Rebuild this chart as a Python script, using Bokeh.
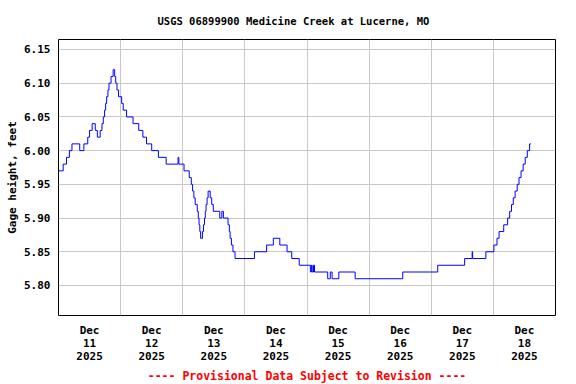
from bokeh.plotting import figure
from bokeh.models import FixedTicker, Range1d, Title, NumeralTickFormatter
from bokeh.embed import file_html
from bokeh.resources import INLINE

# hours since Dec 11 2025 00:00, gage height (ft) at each change
hours = [0.0, 1.8, 3.1, 4.2, 5.2, 8.2, 9.8, 11.3, 12.0, 13.0, 14.2, 15.0, 16.1, 16.8,
         17.3, 17.8, 18.2, 18.6, 19.1, 19.5, 20.3, 21.1, 21.7, 22.1, 22.6, 23.2, 23.7,
         24.4, 25.0, 26.3, 28.8, 31.0, 32.6, 34.0, 36.0, 38.6, 41.6, 46.2, 46.5, 48.5,
         50.5, 51.3, 51.8, 52.3, 52.8, 53.6, 54.0, 54.3, 54.6, 54.9, 55.6, 56.0, 56.4,
         56.7, 57.0, 57.4, 57.8, 58.6, 59.2, 59.8, 62.3, 63.1, 63.7, 65.5, 66.0, 66.3,
         66.8, 67.4, 68.2, 75.7, 80.4, 83.0, 85.5, 88.3, 90.1, 93.0, 97.3, 97.7, 98.0,
         98.5, 98.9, 104.0, 105.0, 105.7, 108.3, 114.6, 133.0, 146.5, 156.9, 159.8,
         160.0, 165.1, 168.2, 169.4, 170.2, 172.0, 173.5, 174.3, 175.0, 175.7, 176.4,
         177.2, 177.9, 178.7, 179.5, 180.3, 181.1, 182.0, 182.5]
gage_ft = [5.97, 5.98, 5.99, 6.00, 6.01, 6.00, 6.01, 6.02, 6.03, 6.04, 6.03, 6.02, 6.03, 6.04,
           6.05, 6.06, 6.07, 6.08, 6.09, 6.10, 6.11, 6.12, 6.11, 6.10, 6.09, 6.08, 6.08,
           6.07, 6.06, 6.05, 6.04, 6.03, 6.02, 6.01, 6.00, 5.99, 5.98, 5.99, 5.98, 5.97,
           5.96, 5.95, 5.94, 5.93, 5.92, 5.91, 5.90, 5.89, 5.88, 5.87, 5.88, 5.89, 5.90,
           5.91, 5.92, 5.93, 5.94, 5.93, 5.92, 5.91, 5.90, 5.91, 5.90, 5.89, 5.88, 5.87,
           5.86, 5.85, 5.84, 5.85, 5.86, 5.87, 5.86, 5.85, 5.84, 5.83, 5.82, 5.83, 5.82,
           5.83, 5.82, 5.81, 5.82, 5.81, 5.82, 5.81, 5.82, 5.83, 5.84, 5.85,
           5.84, 5.85, 5.86, 5.87, 5.88, 5.89, 5.90, 5.91, 5.92, 5.93, 5.94,
           5.95, 5.96, 5.97, 5.98, 5.99, 6.00, 6.01, 6.01]

day_label_hours = [12, 36, 60, 84, 108, 132, 156, 180]
day_labels = ["Dec\n11\n2025", "Dec\n12\n2025", "Dec\n13\n2025", "Dec\n14\n2025",
              "Dec\n15\n2025", "Dec\n16\n2025", "Dec\n17\n2025", "Dec\n18\n2025"]
midnight_hours = [24, 48, 72, 96, 120, 144, 168]
y_ticks = [5.80, 5.85, 5.90, 5.95, 6.00, 6.05, 6.10, 6.15]

title_text = "USGS 06899900 Medicine Creek at Lucerne, MO"
footer_text = "---- Provisional Data Subject to Revision ----"
FONT = "DejaVu Sans Mono"

p = figure(width=576, height=384, output_backend="svg", toolbar_location=None,
           x_range=Range1d(0, 192), y_range=Range1d(5.7555, 6.1648),
           min_border_left=58, min_border_right=21, min_border_top=39, min_border_bottom=68,
           background_fill_color="white", border_fill_color="white")
p.title = None
p.add_layout(Title(text=title_text, align="left", text_font=FONT, text_font_size="10.5px",
                   text_font_style="bold", text_color="black", standoff=25, offset=99), "above")
p.add_layout(Title(text=footer_text, align="center", text_font=FONT, text_font_size="11.5px",
                   text_font_style="bold", text_color="red", standoff=3), "below")

p.outline_line_color = "black"
p.outline_line_width = 1

p.step(hours, gage_ft, mode="after", line_color="#0000ff", line_width=1)

xa = p.xaxis[0]
xa.ticker = FixedTicker(ticks=day_label_hours)
xa.major_label_overrides = {h: lab for h, lab in zip(day_label_hours, day_labels)}
ya = p.yaxis[0]
ya.ticker = FixedTicker(ticks=y_ticks)
ya.formatter = NumeralTickFormatter(format="0.00")
ya.axis_label = "Gage height, feet"
for ax in (xa, ya):
    ax.axis_line_color = None
    ax.major_tick_line_color = None
    ax.minor_tick_line_color = None
    ax.major_tick_in = 0
    ax.major_tick_out = 0
    ax.major_label_text_font = FONT
    ax.major_label_text_font_size = "11px"
    ax.major_label_text_font_style = "bold"
    ax.major_label_text_color = "black"
    ax.axis_label_text_font = FONT
    ax.axis_label_text_font_size = "11px"
    ax.axis_label_text_font_style = "bold"
    ax.axis_label_text_color = "black"
xa.major_label_text_line_height = 1.0
xa.major_label_standoff = 8
ya.major_label_standoff = 8
ya.axis_label_standoff = 2

p.xgrid.ticker = FixedTicker(ticks=midnight_hours)
p.ygrid.ticker = FixedTicker(ticks=y_ticks)
for g in (p.xgrid[0], p.ygrid[0]):
    g.grid_line_color = "#c8c8c8"
    g.grid_line_width = 1

open("out.html", "w").write(file_html(p, INLINE))
